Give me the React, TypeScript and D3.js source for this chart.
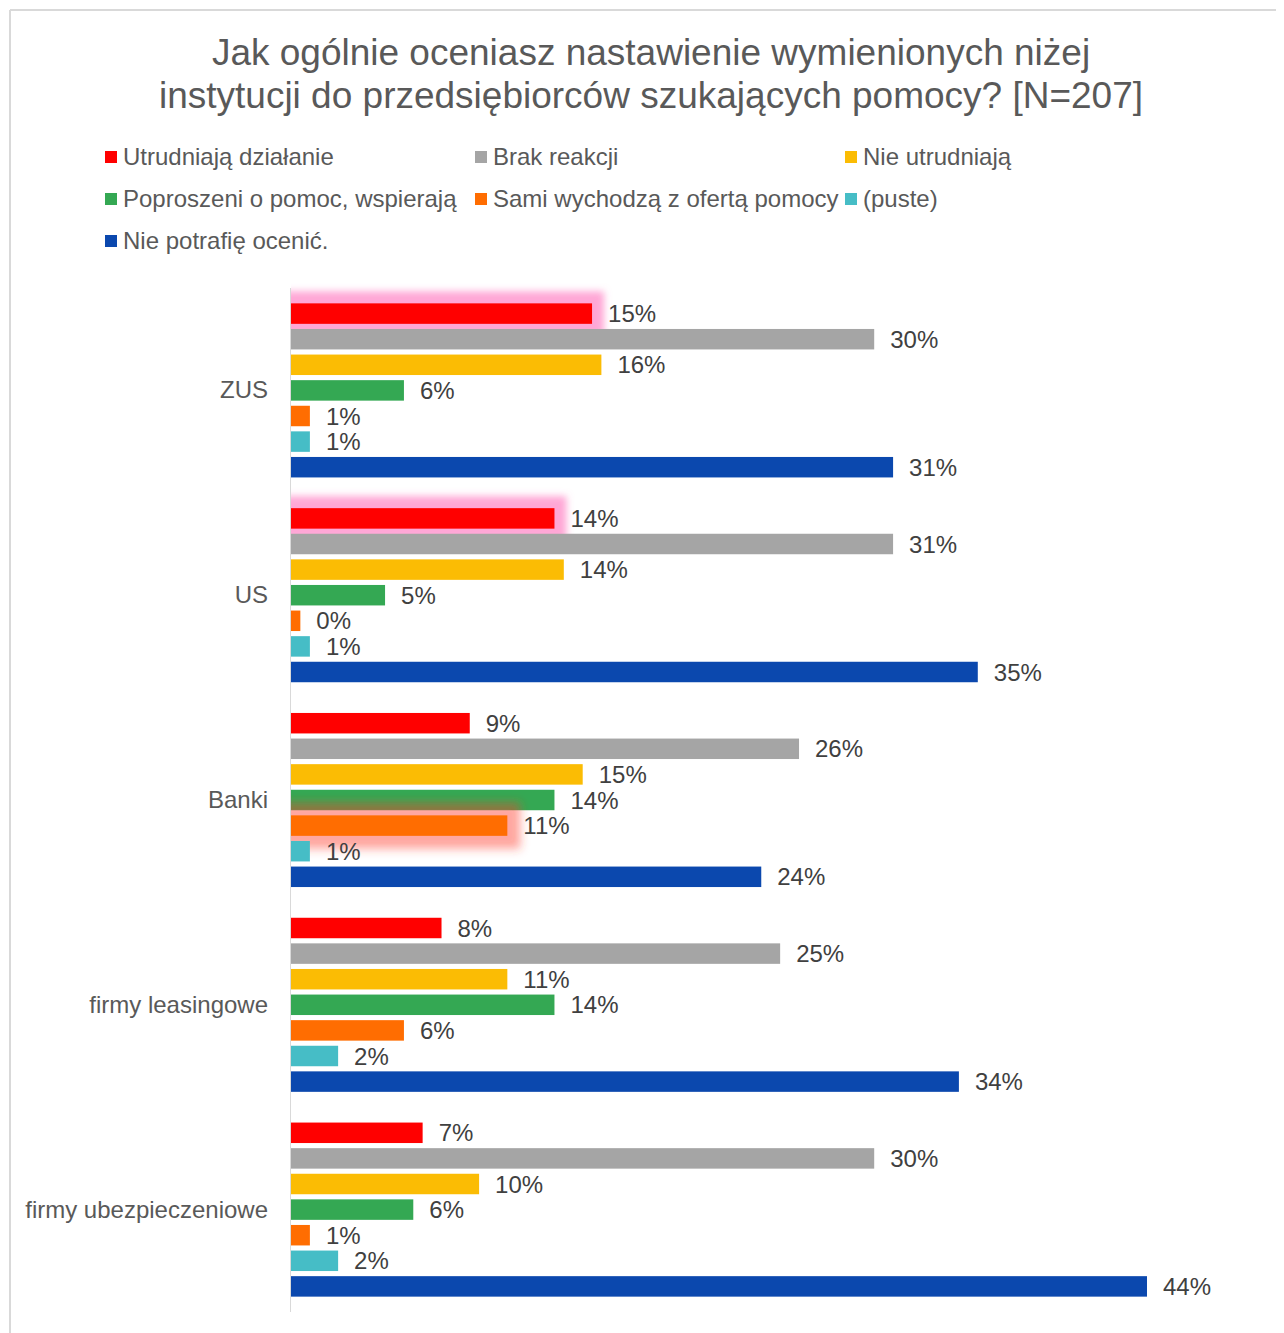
import React from "react";
import * as d3 from "d3";

const titleLines = [
  "Jak ogólnie oceniasz nastawienie wymienionych niżej",
  "instytucji do przedsiębiorców szukających pomocy? [N=207]",
];

const categories = ["ZUS", "US", "Banki", "firmy leasingowe", "firmy ubezpieczeniowe"];

const seriesNames = [
  "Utrudniają działanie",
  "Brak reakcji",
  "Nie utrudniają",
  "Poproszeni o pomoc, wspierają",
  "Sami wychodzą z ofertą pomocy",
  "(puste)",
  "Nie potrafię ocenić.",
];

const seriesColors = ["#FF0000", "#A5A5A5", "#FBBC04", "#34A853", "#FF6D01", "#46BDC6", "#0B48AE"];

// percentages (bar lengths), per series, per category
const utrudniaja = [15.46, 13.53, 9.18, 7.73, 6.76];
const brakReakcji = [29.95, 30.92, 26.09, 25.12, 29.95];
const nieUtrudniaja = [15.94, 14.01, 14.98, 11.11, 9.66];
const wspieraja = [5.8, 4.83, 13.53, 13.53, 6.28];
const samiWychodza = [0.97, 0.48, 11.11, 5.8, 0.97];
const puste = [0.97, 0.97, 0.97, 2.42, 2.42];
const nieOcenic = [30.92, 35.27, 24.15, 34.3, 43.96];

const seriesValues = [utrudniaja, brakReakcji, nieUtrudniaja, wspieraja, samiWychodza, puste, nieOcenic];

// highlighted (glowing) bars: [category, series index, glow style]
const glows: [string, number, string][] = [
  ["ZUS", 0, "pink"],
  ["US", 0, "pink"],
  ["Banki", 4, "red"],
];

export default function App() {
  const W = 1276;
  const H = 1325;

  const y0 = d3.scaleBand<string>().domain(categories).range([288, 1312]).paddingInner(0.125).paddingOuter(0.0625);
  const y1 = d3
    .scaleBand<number>()
    .domain(d3.range(seriesNames.length))
    .range([0, y0.bandwidth()])
    .paddingInner(0.2)
    .paddingOuter(0.1);
  const x = d3.scaleLinear().domain([0, 50]).range([291, 291 + (1147 - 291) * (50 / 43.96)]);
  const fmt = (v: number) => `${Math.round(v)}%`;

  const font = "'Liberation Sans', Arial, sans-serif";
  const legendCols = [105, 475, 845];
  const legendRows = [157, 199, 241];

  const glowFor = (cat: string, s: number) => glows.find((g) => g[0] === cat && g[1] === s);

  return (
    <svg width={W} height={H} style={{ display: "block" }} fontFamily={font}>
      <defs>
        <filter id="glow-pink" x="-20%" y="-200%" width="140%" height="500%">
          <feMorphology in="SourceAlpha" operator="dilate" radius="12" result="d" />
          <feGaussianBlur in="d" stdDeviation="3.5" result="b" />
          <feFlood floodColor="#ff5fb4" floodOpacity="0.55" />
          <feComposite in2="b" operator="in" />
        </filter>
        <filter id="glow-red" x="-20%" y="-200%" width="140%" height="500%">
          <feMorphology in="SourceAlpha" operator="dilate" radius="13" result="d" />
          <feGaussianBlur in="d" stdDeviation="5" result="b" />
          <feFlood floodColor="#ff3a2a" floodOpacity="0.45" />
          <feComposite in2="b" operator="in" />
        </filter>
        <clipPath id="plot-clip">
          <rect x={291} y={0} width={1400} height={1400} />
        </clipPath>
      </defs>
      <g transform="translate(-8,-8)">
        <rect x={8} y={8} width={W} height={H} fill="#fff" />
        {/* frame */}
        <line x1={10} x2={1292} y1={10} y2={10} stroke="#d9d9d9" strokeWidth={2} />
        <line x1={10} x2={10} y1={10} y2={1340} stroke="#d9d9d9" strokeWidth={2} />

        {/* title */}
        {titleLines.map((t, i) => (
          <text key={i} x={651} y={65 + i * 43} textAnchor="middle" fontSize={37} fill="#595959">
            {t}
          </text>
        ))}

        {/* legend */}
        {seriesNames.map((name, i) => {
          const cx = legendCols[i % 3];
          const cy = legendRows[Math.floor(i / 3)];
          return (
            <g key={name}>
              <rect x={cx} y={cy - 6} width={12} height={12} fill={seriesColors[i]} />
              <text x={cx + 18} y={cy + 8} fontSize={24} fill="#595959">
                {name}
              </text>
            </g>
          );
        })}

        {/* axis line */}
        <line x1={290.5} x2={290.5} y1={288} y2={1312} stroke="#d9d9d9" strokeWidth={1} />

        {/* category labels */}
        {categories.map((c) => (
          <text
            key={c}
            x={268}
            y={(y0(c) as number) + y0.bandwidth() / 2 + 8}
            textAnchor="end"
            fontSize={24}
            fill="#595959"
          >
            {c}
          </text>
        ))}

        {/* bars, series by series */}
        {seriesNames.map((name, s) => (
          <g key={name}>
            {categories.map((c, ci) => {
              const v = seriesValues[s][ci];
              const by = (y0(c) as number) + (y1(s) as number);
              const bh = y1.bandwidth();
              const g = glowFor(c, s);
              return (
                <g key={c}>
                  {g && (
                    <g clipPath="url(#plot-clip)">
                      <rect
                        x={x(0)}
                        y={by}
                        width={x(v) - x(0)}
                        height={bh}
                        fill="#000"
                        filter={`url(#glow-${g[2]})`}
                      />
                    </g>
                  )}
                  <rect x={x(0)} y={by} width={x(v) - x(0)} height={bh} fill={seriesColors[s]} />
                </g>
              );
            })}
          </g>
        ))}

        {/* data labels */}
        {seriesNames.map((name, s) =>
          categories.map((c, ci) => {
            const v = seriesValues[s][ci];
            const by = (y0(c) as number) + (y1(s) as number) + y1.bandwidth() / 2;
            return (
              <text key={name + c} x={x(v) + 16} y={by + 8.5} fontSize={24} fill="#404040">
                {fmt(v)}
              </text>
            );
          })
        )}
      </g>
    </svg>
  );
}
